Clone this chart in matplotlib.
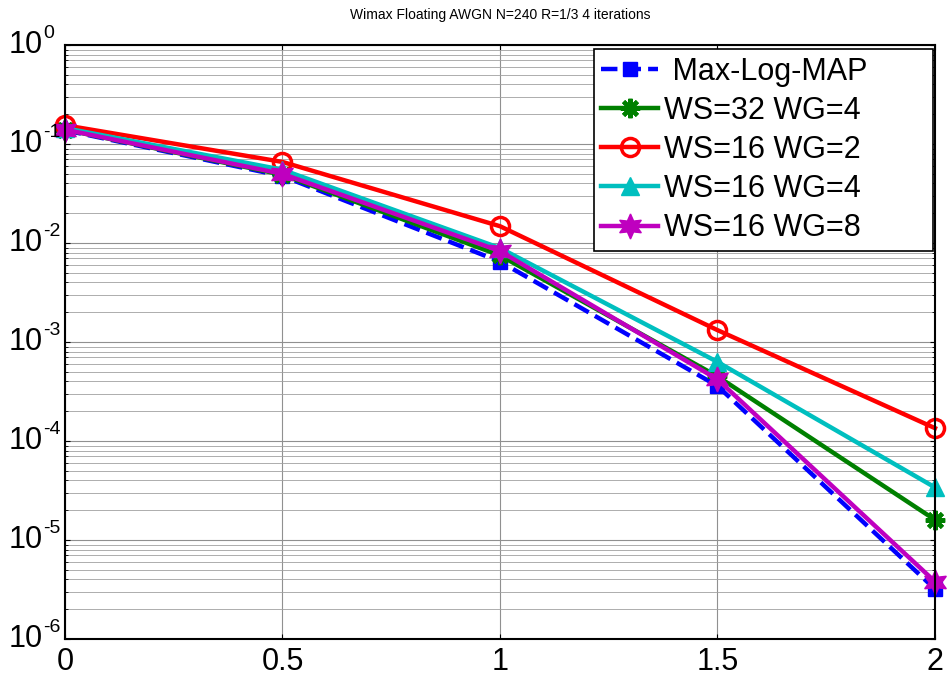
"""
BER curves for Wimax turbo decoder, floating point, AWGN
"""

import numpy as np
import matplotlib
matplotlib.use("Agg")
import matplotlib.pyplot as plt
import matplotlib.transforms as mtransforms
from matplotlib.ticker import LogLocator, NullFormatter

plt.rcParams['font.family'] = ['Liberation Sans', 'DejaVu Sans']

# Eb/No points
snr = [0, 0.5, 1, 1.5, 2]
snr_labels = ['0', '0.5', '1', '1.5', '2']

# BER values
ber_maxlog = [0.138, 0.0475, 0.0065, 3.6e-4, 3.2e-6]
ber_ws32_wg4 = [0.14, 0.049, 0.0075, 4.5e-4, 1.6e-5]
ber_ws16_wg2 = [0.155, 0.066, 0.0148, 1.32e-3, 1.35e-4]
ber_ws16_wg4 = [0.145, 0.055, 0.0089, 6.3e-4, 3.4e-5]
ber_ws16_wg8 = [0.14, 0.05, 0.0083, 4.2e-4, 3.8e-6]

# decade exponents for y tick labels
decades = [0, -1, -2, -3, -4, -5, -6]

labels = [' Max-Log-MAP', 'WS=32 WG=4', 'WS=16 WG=2', 'WS=16 WG=4', 'WS=16 WG=8']

fig = plt.figure(figsize=(9.47, 6.78), dpi=100)
ax = fig.add_axes([0.0686, 0.0575, 0.9187, 0.876])

lw = 3.2
ax.semilogy(snr, ber_maxlog, '--', color='#0000ff', lw=lw, marker='s',
            ms=10, mfc='#0000ff', mec='#0000ff', label=labels[0], clip_on=False)
ax.semilogy(snr, ber_ws32_wg4, '-', color='#008000', lw=lw, marker=(8, 2, 0),
            ms=14, mec='#008000', mew=3, label=labels[1], clip_on=False)
ax.semilogy(snr, ber_ws16_wg2, '-', color='#ff0000', lw=lw, marker='o',
            ms=13, mfc='none', mec='#ff0000', mew=2.5, label=labels[2], clip_on=False)
ax.semilogy(snr, ber_ws16_wg4, '-', color='#00bfbf', lw=lw, marker='^',
            ms=13, mfc='#00bfbf', mec='#00bfbf', label=labels[3], clip_on=False)
ax.semilogy(snr, ber_ws16_wg8, '-', color='#bf00bf', lw=lw, marker=(6, 1, 0),
            ms=18, mfc='#bf00bf', mec='#bf00bf', label=labels[4], clip_on=False)

ax.set_xlim(0, 2)
ax.set_ylim(1e-6, 1)
ax.set_xticks(snr)
ax.set_xticklabels(snr_labels)
ax.set_yticks([10.0 ** d for d in decades])
ax.set_yticklabels([''] * len(decades))
ax.yaxis.set_minor_locator(LogLocator(base=10, subs=np.arange(2, 10), numticks=100))
ax.yaxis.set_minor_formatter(NullFormatter())

# MATLAB style "10" with raised exponent
trans = mtransforms.blended_transform_factory(ax.transAxes, ax.transData)
for d in decades:
    base_tr = mtransforms.offset_copy(trans, fig=fig, x=-22, y=0, units='dots')
    ax.text(0, 10.0 ** d, '10', transform=base_tr, ha='right', va='center',
            fontsize=22, clip_on=False)
    exp_tr = mtransforms.offset_copy(trans, fig=fig, x=-22, y=7, units='dots')
    ax.text(0, 10.0 ** d, '%d' % d, transform=exp_tr, ha='left', va='baseline',
            fontsize=14, clip_on=False)

ax.grid(True, which='major', color='#909090', lw=0.8)
ax.grid(True, which='minor', axis='y', color='#a0a0a0', lw=0.6)
ax.set_axisbelow(True)

ax.tick_params(axis='both', which='both', direction='in', top=True, right=True,
               labelsize=22)
ax.tick_params(axis='x', pad=6)
for sp in ax.spines.values():
    sp.set_linewidth(1.5)

ax.set_title('Wimax Floating AWGN N=240 R=1/3 4 iterations', fontsize=10, pad=19)

leg = ax.legend(loc='upper left', bbox_to_anchor=(0.608, 0.65, 0.39, 0.343),
                mode='expand', borderaxespad=0, fontsize=22, fancybox=False,
                framealpha=1, edgecolor='black', handlelength=1.86,
                labelspacing=0.3, borderpad=0.24, handletextpad=0.2)
leg.get_frame().set_linewidth(1.2)

fig.savefig('out.png', dpi=100)
